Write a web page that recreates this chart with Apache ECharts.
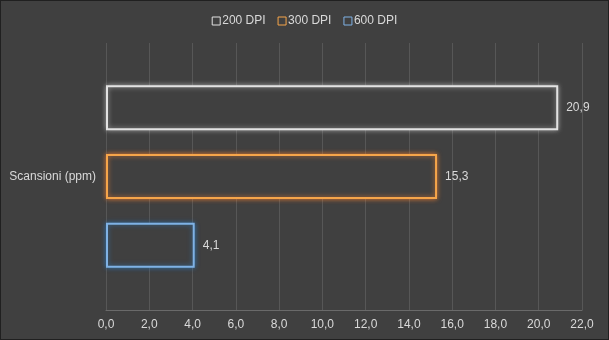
<!DOCTYPE html>
<html><head><meta charset="utf-8">
<script src="https://cdn.jsdelivr.net/npm/echarts@6/dist/echarts.min.js"></script>
<style>
html,body{margin:0;padding:0;background:#404040;}
#c{width:609px;height:340px;box-sizing:border-box;border:1px solid #202020;}
</style></head>
<body><div id="c"></div>
<script>
const categories = ['Scansioni (ppm)'];
const seriesNames = ['200 DPI', '300 DPI', '600 DPI'];
const values200 = [20.9];
const values300 = [15.3];
const values600 = [4.1];
const xTicks = {min: 0, max: 22, interval: 2};

const bg = '#404040';
const styles = [
  {border: '#e2e2e2', glow: 'rgba(230,230,230,0.6)'},
  {border: '#f6a54a', glow: 'rgba(237,125,49,0.85)'},
  {border: '#7fb2e5', glow: 'rgba(46,117,182,0.85)'}
];
const data = [values200, values300, values600];
const fmt = v => Number(v).toFixed(1).replace('.', ',');

const chart = echarts.init(document.getElementById('c'));
chart.setOption({
  backgroundColor: bg,
  animation: false,
  textStyle: {fontFamily: 'Liberation Sans, Arial, sans-serif'},
  legend: {
    top: 9, left: 'center',
    itemWidth: 8, itemHeight: 8, itemGap: 12,
    textStyle: {color: '#d9d9d9', fontSize: 12, padding: [0, 0, 0, -3]},
    data: seriesNames.map((n, i) => ({name: n, icon: 'rect',
      itemStyle: {color: bg, borderColor: styles[i].border, borderWidth: 1}}))
  },
  grid: {left: 105, right: 26, top: 42, bottom: 29, containLabel: false},
  xAxis: {
    type: 'value', min: xTicks.min, max: xTicks.max, interval: xTicks.interval,
    axisLine: {show: true, lineStyle: {color: '#6a6a6a'}},
    axisTick: {show: false},
    splitLine: {show: true, lineStyle: {color: '#575757'}},
    axisLabel: {color: '#d9d9d9', fontSize: 12, margin: 9, formatter: fmt}
  },
  yAxis: {
    type: 'category', data: categories, inverse: true,
    axisLine: {show: false}, axisTick: {show: false},
    axisLabel: {color: '#d9d9d9', fontSize: 12, margin: 10}
  },
  series: seriesNames.map((n, i) => ({
    name: n, type: 'bar', data: data[i],
    barWidth: 45, barGap: '53%',
    itemStyle: {color: bg, borderColor: styles[i].border, borderWidth: 2,
      shadowBlur: 5, shadowColor: styles[i].glow},
    label: {show: true, position: 'right', distance: 8, color: '#d9d9d9', fontSize: 12,
      formatter: p => fmt(p.value)}
  }))
});
</script></body></html>
